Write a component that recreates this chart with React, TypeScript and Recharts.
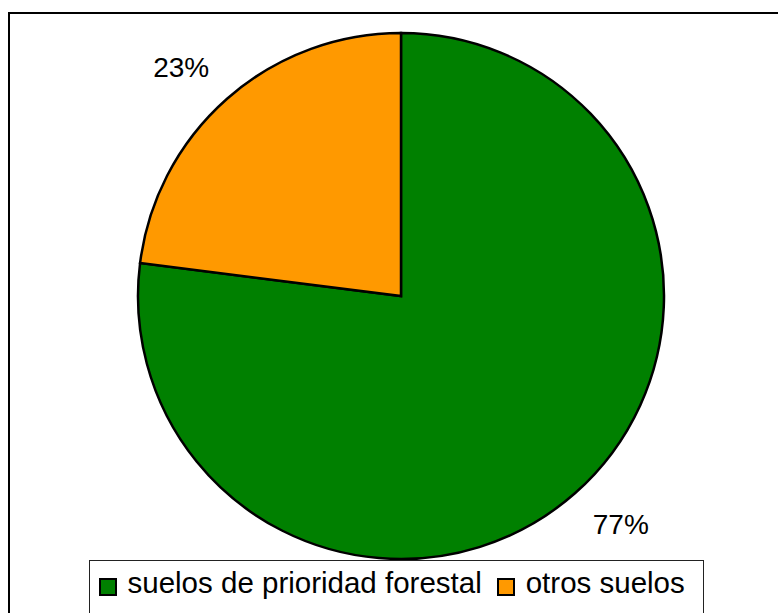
import React from 'react';
import { PieChart, Pie, Cell, Legend } from 'recharts';

// Chart data
const categories = ['suelos de prioridad forestal', 'otros suelos'];
const shares = [77, 23];
const sliceColors = ['#008000', '#FF9900'];

const data = categories.map((name, i) => ({ name, value: shares[i] }));

const RADIAN = Math.PI / 180;

const renderLabel = (props: any) => {
  const { cx, cy, midAngle, outerRadius, value } = props;
  // labels sit a bit outside the rim, nudged like the original
  const r = outerRadius + 54;
  const a = (midAngle + 2.5) * RADIAN;
  const x = cx + r * Math.cos(-a);
  const y = cy + r * Math.sin(-a);
  return (
    <text
      x={x}
      y={y}
      fill="#000"
      fontSize={28}
      fontFamily="'Liberation Sans', Arial, sans-serif"
      textAnchor="middle"
      dominantBaseline="central"
    >
      {`${value}%`}
    </text>
  );
};

const renderLegend = (props: any) => {
  const items = [...props.payload].sort(
    (a: any, b: any) => categories.indexOf(a.value) - categories.indexOf(b.value)
  );
  return (
    <div style={{ display: 'flex', alignItems: 'flex-start', paddingLeft: 8.5, paddingTop: 6.5 }}>
      {items.map((entry: any, i: number) => (
        <div key={entry.value} style={{ display: 'flex', alignItems: 'flex-start', marginRight: i === 0 ? 15 : 0 }}>
          <span
            style={{
              display: 'inline-block',
              width: 14,
              height: 14,
              marginTop: 10,
              background: entry.color,
              border: '2px solid #000',
              marginRight: 11,
            }}
          />
          <span style={{ fontSize: 29.5, lineHeight: '30px', color: '#000', whiteSpace: 'nowrap' }}>
            {entry.value}
          </span>
        </div>
      ))}
    </div>
  );
};

export default function App() {
  return (
    <div
      style={{
        position: 'absolute',
        left: 0,
        top: 0,
        width: 778,
        height: 613,
        overflow: 'hidden',
        background: '#fff',
        fontFamily: "'Liberation Sans', Arial, sans-serif",
      }}
    >
      <div
        style={{
          position: 'absolute',
          left: 8,
          top: 12,
          width: 900,
          height: 800,
          borderTop: '2px solid #000',
          borderLeft: '2px solid #000',
        }}
      />
      <PieChart
        width={778}
        height={613}
        margin={{ top: 0, right: 0, bottom: 0, left: 0 }}
        style={{ position: 'absolute', left: 0, top: 0 }}
      >
        <Pie
          data={data}
          dataKey="value"
          nameKey="name"
          cx={401}
          cy={296}
          outerRadius={263}
          startAngle={90}
          endAngle={-270}
          stroke="#000"
          strokeWidth={2.5}
          label={renderLabel}
          labelLine={false}
          isAnimationActive={false}
        >
          {data.map((d, i) => (
            <Cell key={d.name} fill={sliceColors[i]} />
          ))}
        </Pie>
        <Legend
          content={renderLegend}
          wrapperStyle={{
            position: 'absolute',
            left: 89,
            top: 560,
            width: 615,
            height: 70,
            border: '1.5px solid #222',
            background: '#fff',
            boxSizing: 'border-box',
          }}
        />
      </PieChart>
    </div>
  );
}
